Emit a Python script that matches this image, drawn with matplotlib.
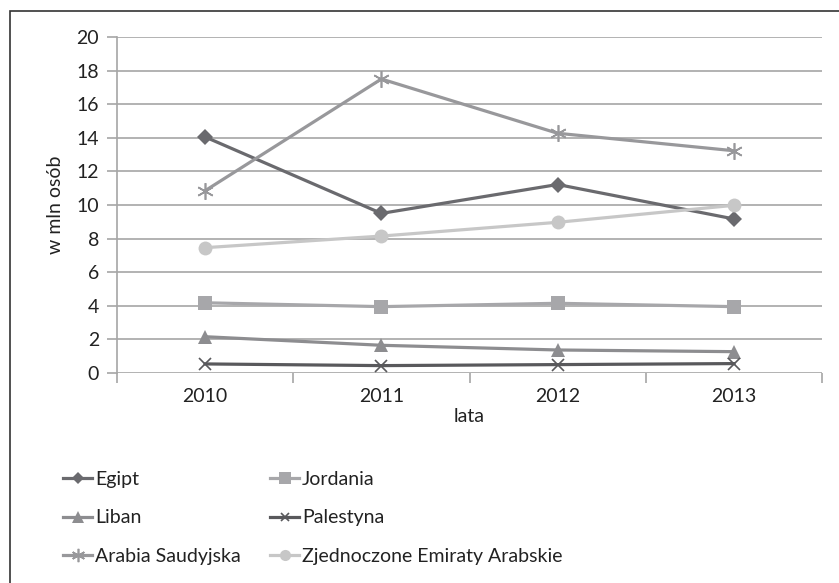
import matplotlib.pyplot as plt
from matplotlib.patches import Rectangle

plt.rcParams['font.family'] = ['Lato', 'DejaVu Sans']

lata = ['2010', '2011', '2012', '2013']
egipt = [14.05, 9.5, 11.22, 9.17]
jordania = [4.18, 3.95, 4.15, 3.95]
liban = [2.16, 1.65, 1.37, 1.27]
palestyna = [0.54, 0.44, 0.5, 0.56]
arabia = [10.85, 17.5, 14.27, 13.23]
zea = [7.46, 8.15, 8.97, 9.98]

series = [
    ('Egipt', egipt, '#6a6a6e', 'D', 8),
    ('Jordania', jordania, '#a7a7aa', 's', 10),
    ('Liban', liban, '#8d8d90', '^', 10),
    ('Palestyna', palestyna, '#59595c', 'x', 8),
    ('Arabia Saudyjska', arabia, '#98989b', (6, 2, 0), 12),
    ('Zjednoczone Emiraty Arabskie', zea, '#c7c7c7', 'o', 10),
]

fs = 14
txt = '#222222'

fig = plt.figure(figsize=(8.39, 5.83), dpi=100)
ax = fig.add_axes([117 / 839, 210 / 583, 705 / 839, 336 / 583])

x = range(len(lata))
handles = {}
for name, vals, col, mk, ms in series:
    thin = mk in ('x', (6, 2, 0))
    h, = ax.plot(x, vals, color=col, lw=2.3, marker=mk, markersize=ms,
                 markerfacecolor=col, markeredgecolor=col,
                 markeredgewidth=1.2 if thin else 0, zorder=3)
    handles[name] = h

ax.set_xlim(-0.5, 3.5)
ax.set_ylim(0, 20)
ax.set_yticks(range(0, 21, 2))
ax.set_xticks([-0.5, 0.5, 1.5, 2.5, 3.5])
ax.set_xticklabels([])
ax.set_xticks(list(x), minor=True)
ax.set_xticklabels(lata, minor=True)
ax.tick_params(axis='x', which='major', length=7, color='#a6a6a6', width=1.2)
ax.tick_params(axis='x', which='minor', length=0, pad=11, labelsize=fs, labelcolor=txt)
ax.tick_params(axis='y', length=7, color='#a6a6a6', width=1.2, labelsize=fs,
               labelcolor=txt, pad=6)
ax.grid(axis='y', color='#a6a6a6', lw=1.2, zorder=0)
ax.set_axisbelow(True)
for s in ['top', 'right', 'bottom']:
    ax.spines[s].set_visible(False)
ax.spines['left'].set_color('#a6a6a6')
ax.spines['left'].set_linewidth(1.2)

ax.set_xlabel('lata', fontsize=fs, color=txt, labelpad=2)
ax.set_ylabel('w mln osób', fontsize=fs, color=txt, labelpad=9)

# legenda: dwie kolumny jako dwie osobne legendy
kolumny = [(['Egipt', 'Liban', 'Arabia Saudyjska'], 63),
           (['Jordania', 'Palestyna', 'Zjednoczone Emiraty Arabskie'], 270)]
for nazwy, x0 in kolumny:
    fig.legend([handles[n] for n in nazwy], nazwy, ncol=1, frameon=False,
               loc='upper left', bbox_to_anchor=(x0 / 839, 1 - 471 / 583),
               borderpad=0, borderaxespad=0, fontsize=fs, handlelength=1.5,
               handletextpad=0.15, labelspacing=1.1, labelcolor=txt,
               markerscale=0.8)

# ramka wykresu
fig.patches.append(Rectangle((10 / 839, -0.2), 1.5, 1.2 - 11 / 583,
                             transform=fig.transFigure, fill=False,
                             edgecolor='#333333', lw=1.2))

fig.savefig('out.png', dpi=100)
